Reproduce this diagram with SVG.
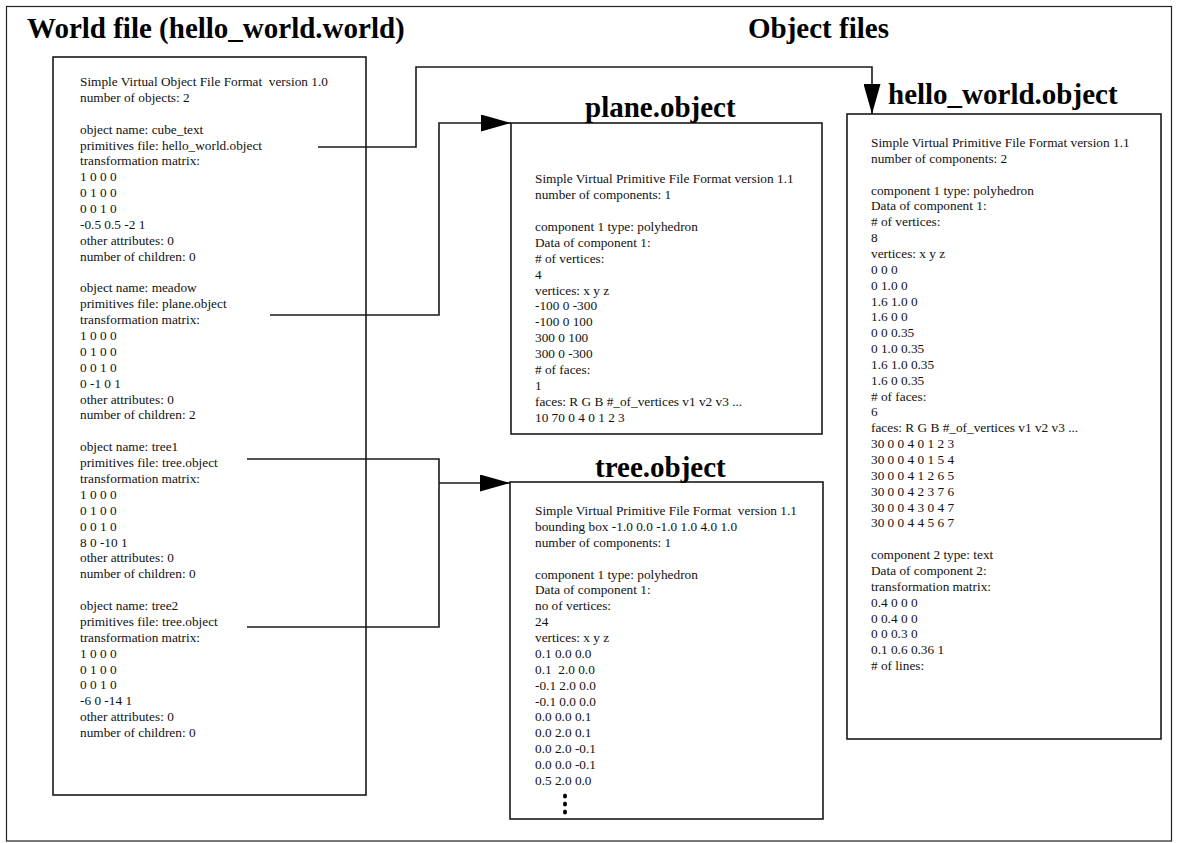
<svg xmlns="http://www.w3.org/2000/svg" width="1179" height="843" viewBox="0 0 1179 843">
  <defs>
    <style>
      .frame { fill: none; stroke: #222; stroke-width: 1.2; }
      .box { fill: #fff; stroke: #1a1a1a; stroke-width: 1.6; }
      .wire { fill: none; stroke: #1a1a1a; stroke-width: 1.6; }
      .title { font-family: "Liberation Serif", "Times New Roman", serif; font-weight: bold; font-size: 29px; fill: #000; }
      .body { font-family: "Liberation Serif", "Times New Roman", serif; font-size: 13.3px; fill: #111; white-space: pre; }
    </style>
    <marker id="arrow" markerUnits="userSpaceOnUse" viewBox="0 0 30 17" refX="30" refY="8.5" markerWidth="30" markerHeight="17" orient="auto">
      <path d="M0,0 L30,8.5 L0,17 Z" fill="#000"/>
    </marker>
  </defs>

  <rect width="1179" height="843" fill="#fff"/>
  <rect class="frame" x="6.5" y="6.5" width="1165" height="834.5"/>

  <text class="title" x="27" y="38">World file (hello_world.world)</text>
  <text class="title" x="748" y="38">Object files</text>

  <!-- world file contents -->
  <g id="world-file">
    <rect class="box" x="53" y="57" width="313" height="738"/>
    <text class="body" x="80" y="86">
      <tspan x="80" dy="0">Simple Virtual Object File Format  version 1.0</tspan>
      <tspan x="80" dy="15.88">number of objects: 2</tspan>
      <tspan x="80" dy="31.76">object name: cube_text</tspan>
      <tspan x="80" dy="15.88">primitives file: hello_world.object</tspan>
      <tspan x="80" dy="15.88">transformation matrix:</tspan>
      <tspan x="80" dy="15.88">1 0 0 0</tspan>
      <tspan x="80" dy="15.88">0 1 0 0</tspan>
      <tspan x="80" dy="15.88">0 0 1 0</tspan>
      <tspan x="80" dy="15.88">-0.5 0.5 -2 1</tspan>
      <tspan x="80" dy="15.88">other attributes: 0</tspan>
      <tspan x="80" dy="15.88">number of children: 0</tspan>
      <tspan x="80" dy="31.76">object name: meadow</tspan>
      <tspan x="80" dy="15.88">primitives file: plane.object</tspan>
      <tspan x="80" dy="15.88">transformation matrix:</tspan>
      <tspan x="80" dy="15.88">1 0 0 0</tspan>
      <tspan x="80" dy="15.88">0 1 0 0</tspan>
      <tspan x="80" dy="15.88">0 0 1 0</tspan>
      <tspan x="80" dy="15.88">0 -1 0 1</tspan>
      <tspan x="80" dy="15.88">other attributes: 0</tspan>
      <tspan x="80" dy="15.88">number of children: 2</tspan>
      <tspan x="80" dy="31.76">object name: tree1</tspan>
      <tspan x="80" dy="15.88">primitives file: tree.object</tspan>
      <tspan x="80" dy="15.88">transformation matrix:</tspan>
      <tspan x="80" dy="15.88">1 0 0 0</tspan>
      <tspan x="80" dy="15.88">0 1 0 0</tspan>
      <tspan x="80" dy="15.88">0 0 1 0</tspan>
      <tspan x="80" dy="15.88">8 0 -10 1</tspan>
      <tspan x="80" dy="15.88">other attributes: 0</tspan>
      <tspan x="80" dy="15.88">number of children: 0</tspan>
      <tspan x="80" dy="31.76">object name: tree2</tspan>
      <tspan x="80" dy="15.88">primitives file: tree.object</tspan>
      <tspan x="80" dy="15.88">transformation matrix:</tspan>
      <tspan x="80" dy="15.88">1 0 0 0</tspan>
      <tspan x="80" dy="15.88">0 1 0 0</tspan>
      <tspan x="80" dy="15.88">0 0 1 0</tspan>
      <tspan x="80" dy="15.88">-6 0 -14 1</tspan>
      <tspan x="80" dy="15.88">other attributes: 0</tspan>
      <tspan x="80" dy="15.88">number of children: 0</tspan>
    </text>
  </g>

  <!-- plane primitives -->
  <g id="plane-object">
    <rect class="box" x="511" y="123" width="311" height="311"/>
    <text class="title" x="585" y="117">plane.object</text>
    <text class="body" x="535" y="183">
      <tspan x="535" dy="0">Simple Virtual Primitive File Format version 1.1</tspan>
      <tspan x="535" dy="15.93">number of components: 1</tspan>
      <tspan x="535" dy="31.86">component 1 type: polyhedron</tspan>
      <tspan x="535" dy="15.93">Data of component 1:</tspan>
      <tspan x="535" dy="15.93"># of vertices:</tspan>
      <tspan x="535" dy="15.93">4</tspan>
      <tspan x="535" dy="15.93">vertices: x y z</tspan>
      <tspan x="535" dy="15.93">-100 0 -300</tspan>
      <tspan x="535" dy="15.93">-100 0 100</tspan>
      <tspan x="535" dy="15.93">300 0 100</tspan>
      <tspan x="535" dy="15.93">300 0 -300</tspan>
      <tspan x="535" dy="15.93"># of faces:</tspan>
      <tspan x="535" dy="15.93">1</tspan>
      <tspan x="535" dy="15.93">faces: R G B #_of_vertices v1 v2 v3 ...</tspan>
      <tspan x="535" dy="15.93">10 70 0 4 0 1 2 3</tspan>
    </text>
  </g>

  <!-- tree primitives -->
  <g id="tree-object">
    <rect class="box" x="510" y="482" width="313" height="337"/>
    <text class="title" x="595" y="477">tree.object</text>
    <text class="body" x="535" y="515">
      <tspan x="535" dy="0">Simple Virtual Primitive File Format  version 1.1</tspan>
      <tspan x="535" dy="15.88">bounding box -1.0 0.0 -1.0 1.0 4.0 1.0</tspan>
      <tspan x="535" dy="15.88">number of components: 1</tspan>
      <tspan x="535" dy="31.76">component 1 type: polyhedron</tspan>
      <tspan x="535" dy="15.88">Data of component 1:</tspan>
      <tspan x="535" dy="15.88">no of vertices:</tspan>
      <tspan x="535" dy="15.88">24</tspan>
      <tspan x="535" dy="15.88">vertices: x y z</tspan>
      <tspan x="535" dy="15.88">0.1 0.0 0.0</tspan>
      <tspan x="535" dy="15.88">0.1  2.0 0.0</tspan>
      <tspan x="535" dy="15.88">-0.1 2.0 0.0</tspan>
      <tspan x="535" dy="15.88">-0.1 0.0 0.0</tspan>
      <tspan x="535" dy="15.88">0.0 0.0 0.1</tspan>
      <tspan x="535" dy="15.88">0.0 2.0 0.1</tspan>
      <tspan x="535" dy="15.88">0.0 2.0 -0.1</tspan>
      <tspan x="535" dy="15.88">0.0 0.0 -0.1</tspan>
      <tspan x="535" dy="15.88">0.5 2.0 0.0</tspan>
    </text>
    <g fill="#000">
      <ellipse cx="565" cy="796" rx="2" ry="2.5"/>
      <ellipse cx="565" cy="804" rx="2" ry="2.5"/>
      <ellipse cx="565" cy="812" rx="2" ry="2.5"/>
    </g>
  </g>

  <!-- hello_world primitives -->
  <g id="hello-world-object">
    <rect class="box" x="847" y="114" width="314" height="625"/>
    <text class="title" x="888" y="104">hello_world.object</text>
    <text class="body" x="871" y="147">
      <tspan x="871" dy="0">Simple Virtual Primitive File Format version 1.1</tspan>
      <tspan x="871" dy="15.85">number of components: 2</tspan>
      <tspan x="871" dy="31.7">component 1 type: polyhedron</tspan>
      <tspan x="871" dy="15.85">Data of component 1:</tspan>
      <tspan x="871" dy="15.85"># of vertices:</tspan>
      <tspan x="871" dy="15.85">8</tspan>
      <tspan x="871" dy="15.85">vertices: x y z</tspan>
      <tspan x="871" dy="15.85">0 0 0</tspan>
      <tspan x="871" dy="15.85">0 1.0 0</tspan>
      <tspan x="871" dy="15.85">1.6 1.0 0</tspan>
      <tspan x="871" dy="15.85">1.6 0 0</tspan>
      <tspan x="871" dy="15.85">0 0 0.35</tspan>
      <tspan x="871" dy="15.85">0 1.0 0.35</tspan>
      <tspan x="871" dy="15.85">1.6 1.0 0.35</tspan>
      <tspan x="871" dy="15.85">1.6 0 0.35</tspan>
      <tspan x="871" dy="15.85"># of faces:</tspan>
      <tspan x="871" dy="15.85">6</tspan>
      <tspan x="871" dy="15.85">faces: R G B #_of_vertices v1 v2 v3 ...</tspan>
      <tspan x="871" dy="15.85">30 0 0 4 0 1 2 3</tspan>
      <tspan x="871" dy="15.85">30 0 0 4 0 1 5 4</tspan>
      <tspan x="871" dy="15.85">30 0 0 4 1 2 6 5</tspan>
      <tspan x="871" dy="15.85">30 0 0 4 2 3 7 6</tspan>
      <tspan x="871" dy="15.85">30 0 0 4 3 0 4 7</tspan>
      <tspan x="871" dy="15.85">30 0 0 4 4 5 6 7</tspan>
      <tspan x="871" dy="31.7">component 2 type: text</tspan>
      <tspan x="871" dy="15.85">Data of component 2:</tspan>
      <tspan x="871" dy="15.85">transformation matrix:</tspan>
      <tspan x="871" dy="15.85">0.4 0 0 0</tspan>
      <tspan x="871" dy="15.85">0 0.4 0 0</tspan>
      <tspan x="871" dy="15.85">0 0 0.3 0</tspan>
      <tspan x="871" dy="15.85">0.1 0.6 0.36 1</tspan>
      <tspan x="871" dy="15.85"># of lines:</tspan>
    </text>
  </g>

  <!-- references from world objects to primitive files -->
  <g id="connectors">
    <path class="wire" d="M318,147 H416 V67 H872 V114" marker-end="url(#arrow)"/>
    <path class="wire" d="M270,315 H439 V123 H511" marker-end="url(#arrow)"/>
    <path class="wire" d="M247,459 H439 V627 H247"/>
    <path class="wire" d="M439,483 H510" marker-end="url(#arrow)"/>
  </g>
</svg>
